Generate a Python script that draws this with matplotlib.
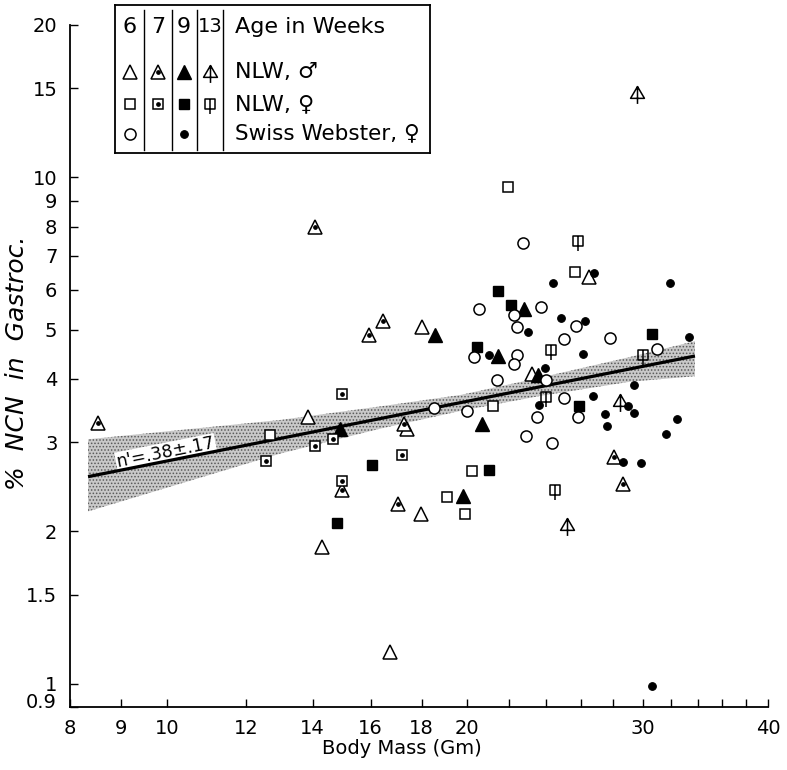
import matplotlib
matplotlib.use('Agg')
import matplotlib.pyplot as plt
from matplotlib.path import Path
from matplotlib.ticker import FixedLocator, NullLocator, NullFormatter

# body mass (g) / % NCN in gastrocnemius
# NLW males
m6_mass = [18.0, 13.86, 17.39, 17.96, 14.31, 16.73, 23.19, 26.49]
m6_ncn = [5.07, 3.37, 3.18, 2.16, 1.86, 1.157, 4.09, 6.37]
m7_mass = [8.53, 14.06, 16.48, 15.95, 17.28, 14.97, 17.06, 28.05, 28.66]
m7_ncn = [3.28, 7.97, 5.20, 4.88, 3.26, 2.41, 2.27, 2.80, 2.48]
m9_mass = [18.58, 14.91, 19.81, 22.79, 21.48, 20.70, 23.54]
m9_ncn = [4.88, 3.19, 2.35, 5.50, 4.45, 3.26, 4.07]
m13_mass = [29.55, 28.43, 25.18]
m13_ncn = [14.66, 3.62, 2.06]
# NLW females
f6_mass = [12.69, 19.10, 21.98, 25.63, 21.23, 20.21, 19.89]
f6_ncn = [3.10, 2.34, 9.58, 6.51, 3.54, 2.63, 2.16]
f7_mass = [12.57, 14.97, 14.68, 14.08, 17.19, 14.97]
f7_ncn = [2.75, 3.73, 3.05, 2.95, 2.83, 2.51]
f9_mass = [16.04, 14.81, 21.48, 22.10, 20.44, 25.87, 21.01, 30.59]
f9_ncn = [2.70, 2.08, 5.97, 5.60, 4.63, 3.54, 2.64, 4.91]
f13_mass = [25.83, 24.25, 23.96, 24.47, 29.97]
f13_ncn = [7.50, 4.56, 3.69, 2.41, 4.46]
# Swiss Webster females
sw6_mass = [18.52, 22.73, 20.54, 23.68, 22.29, 25.69, 22.43, 24.99, 27.81, 20.30, 22.42,
            22.29, 21.43, 23.97, 25.01, 19.97, 23.50, 25.79, 22.91, 24.33, 30.99]
sw6_ncn = [3.51, 7.43, 5.51, 5.54, 5.34, 5.09, 5.07, 4.80, 4.81, 4.41, 4.47,
           4.29, 3.99, 3.98, 3.66, 3.46, 3.36, 3.36, 3.09, 2.99, 4.58]
sw9_mass = [26.80, 24.35, 24.80, 26.25, 22.99, 21.01, 26.13, 23.92, 23.61, 26.74, 28.98,
            27.49, 27.61, 28.66, 31.92, 33.37, 29.37, 29.37, 32.42, 31.63, 29.83, 30.64]
sw9_ncn = [6.49, 6.19, 5.27, 5.21, 4.95, 4.46, 4.49, 4.20, 3.55, 3.70, 3.53,
           3.41, 3.23, 2.74, 6.19, 4.83, 3.89, 3.43, 3.33, 3.11, 2.73, 0.99]

# regression line and confidence band
line_mass = [8.34, 33.8]
line_ncn = [2.565, 4.44]
band_mass = [8.34, 13.0, 16.35, 19.7, 23.6, 29.1, 33.8]
band_hi = [3.04, 3.32, 3.53, 3.72, 4.02, 4.42, 4.75]
band_lo = [2.19, 2.85, 3.19, 3.46, 3.70, 3.95, 4.05]

xticks = [8, 9, 10, 12, 14, 16, 18, 20, 30, 40]
xminor = [22, 24, 26, 28, 32, 34, 36, 38]
yticks = [0.9, 1, 1.5, 2, 3, 4, 5, 6, 7, 8, 9, 10, 15, 20]

plt.rcParams['font.family'] = ['DejaVu Sans']
plt.rcParams['hatch.linewidth'] = 0.7

arrow_tri = Path([(-1, -0.7), (1, -0.7), (0, 1), (-1, -0.7), (0, 1), (0, -1.5)],
                 [Path.MOVETO, Path.LINETO, Path.LINETO, Path.CLOSEPOLY, Path.MOVETO, Path.LINETO])
line_sq = Path([(-1, -1), (1, -1), (1, 1), (-1, 1), (-1, -1), (0, 1), (0, -2)],
               [Path.MOVETO, Path.LINETO, Path.LINETO, Path.LINETO, Path.CLOSEPOLY, Path.MOVETO, Path.LINETO])

STYLES = {
    'tri_open': dict(marker='^', ms=10, mfc='white', mec='black', mew=1.1),
    'tri_dot': dict(marker='^', ms=10, mfc='white', mec='black', mew=1.1),
    'tri_fill': dict(marker='^', ms=10, mfc='black', mec='black', mew=1.0),
    'tri_arrow': dict(marker=arrow_tri, ms=15, mfc='none', mec='black', mew=1.1),
    'sq_open': dict(marker='s', ms=7.5, mfc='white', mec='black', mew=1.1),
    'sq_dot': dict(marker='s', ms=7.5, mfc='white', mec='black', mew=1.1),
    'sq_fill': dict(marker='s', ms=7.5, mfc='black', mec='black', mew=1.0),
    'sq_line': dict(marker=line_sq, ms=14, mfc='none', mec='black', mew=1.1),
    'circ_open': dict(marker='o', ms=8, mfc='white', mec='black', mew=1.1),
    'circ_fill': dict(marker='o', ms=5.5, mfc='black', mec='black', mew=0.8),
}


def put(ax, x, y, kind, z=5):
    ax.plot(x, y, ls='none', zorder=z, **STYLES[kind])
    if kind in ('tri_dot', 'sq_dot'):
        ax.plot(x, y, ls='none', marker='o', ms=2.4, color='black', zorder=z + 0.1)


fig = plt.figure(figsize=(7.87, 7.70), dpi=100)
ax = fig.add_axes([70 / 787, 63 / 770, 698 / 787, 682 / 770])
ax.set_xscale('log')
ax.set_yscale('log')
ax.set_xlim(8, 40)
ax.set_ylim(0.9, 20)

# band + fit
ax.fill_between(band_mass, band_lo, band_hi, facecolor='#c9c9c9', edgecolor='#5a5a5a',
                hatch='.....', linewidth=0, zorder=1)
ax.plot(line_mass, line_ncn, color='black', lw=2.3, zorder=4, solid_capstyle='butt')
ax.text(8.93, 2.68, "n'=.38\u00b1.17", rotation=11.25, rotation_mode='anchor',
        ha='left', va='baseline', fontsize=12.5, zorder=3,
        bbox=dict(facecolor='white', edgecolor='none', pad=0.5))

# points
put(ax, m6_mass, m6_ncn, 'tri_open')
put(ax, m7_mass, m7_ncn, 'tri_dot')
put(ax, m9_mass, m9_ncn, 'tri_fill')
put(ax, m13_mass, m13_ncn, 'tri_arrow')
put(ax, f6_mass, f6_ncn, 'sq_open')
put(ax, f7_mass, f7_ncn, 'sq_dot')
put(ax, f9_mass, f9_ncn, 'sq_fill')
put(ax, f13_mass, f13_ncn, 'sq_line')
put(ax, sw6_mass, sw6_ncn, 'circ_open')
put(ax, sw9_mass, sw9_ncn, 'circ_fill')

# axes cosmetics
for s in ['top', 'right']:
    ax.spines[s].set_visible(False)
for s in ['left', 'bottom']:
    ax.spines[s].set_linewidth(1.3)
ax.xaxis.set_major_locator(FixedLocator(xticks))
ax.set_xticklabels([str(v) for v in xticks])
ax.xaxis.set_minor_locator(FixedLocator(xminor))
ax.xaxis.set_minor_formatter(NullFormatter())
ax.yaxis.set_major_locator(FixedLocator(yticks))
ax.set_yticklabels(['' if v == 0.9 else ('%g' % v) for v in yticks])
ax.yaxis.set_minor_locator(NullLocator())
ax.tick_params(which='both', direction='in', length=6, width=1.0, labelsize=14, pad=9)
# 0.9 label sits a little above its tick, as in the original
ax.annotate('0.9', xy=(0, 0.9), xycoords=('axes fraction', 'data'), xytext=(-9.5, 3),
            textcoords='offset points', ha='right', va='center', fontsize=14)

fig.text(402 / 787, 1 - 748 / 770, 'Body Mass (Gm)', ha='center', va='center', fontsize=14)
fig.text(17 / 787, 1 - 363 / 770, '%  NCN  in  Gastroc.', rotation=90, ha='center',
         va='center', fontsize=18, style='italic')

# legend box
lg = fig.add_axes([115 / 787, 1 - 153 / 770, 315 / 787, 148 / 770])
lg.set_xlim(0, 315)
lg.set_ylim(148, 0)
lg.set_xticks([])
lg.set_yticks([])
for s in lg.spines.values():
    s.set_linewidth(1.3)
for xd in [29, 57, 82, 108]:
    lg.plot([xd, xd], [5, 145], color='black', lw=1.0)
cols = [15, 43, 69, 95]
for xc, lab in zip(cols, ['6', '7', '9', '13']):
    lg.text(xc, 22, lab, ha='center', va='center', fontsize=16 if lab != '13' else 14)
rows = [67, 99, 129]
kinds = [['tri_open', 'tri_dot', 'tri_fill', 'tri_arrow'],
         ['sq_open', 'sq_dot', 'sq_fill', 'sq_line'],
         ['circ_open', None, 'circ_fill', None]]
for yr, row in zip(rows, kinds):
    for xc, k in zip(cols, row):
        if k:
            put(lg, [xc], [yr], k)
lg.text(120, 22, 'Age in Weeks', ha='left', va='center', fontsize=16)
lg.text(120, 67, 'NLW, \u2642', ha='left', va='center', fontsize=16)
lg.text(120, 99, 'NLW, \u2640', ha='left', va='center', fontsize=16)
lg.text(120, 128, 'Swiss Webster, \u2640', ha='left', va='center', fontsize=15.5)

fig.savefig('out.png', dpi=100)
